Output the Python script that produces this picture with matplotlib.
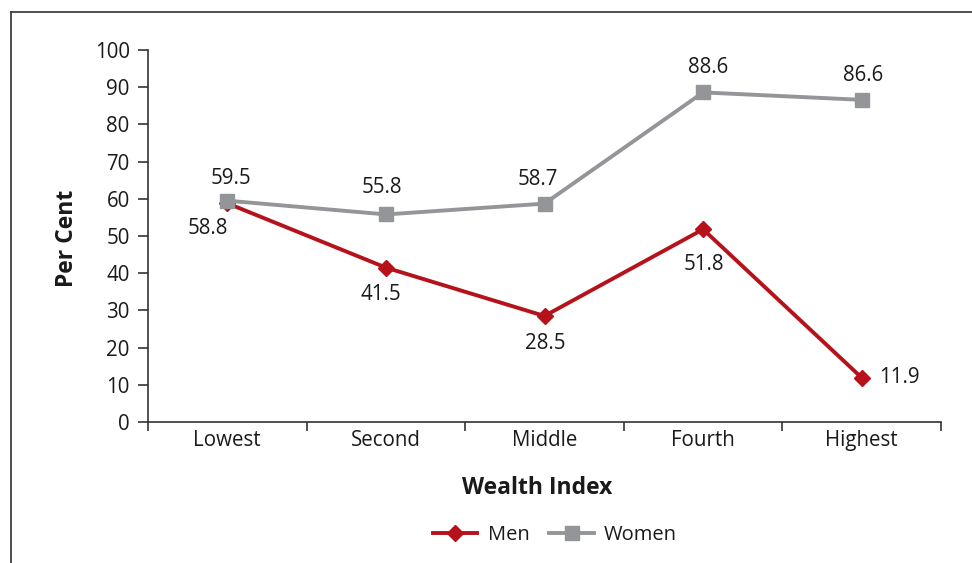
import matplotlib
matplotlib.use("Agg")
import matplotlib.pyplot as plt
from matplotlib.lines import Line2D

plt.rcParams['font.family'] = ['Open Sans', 'DejaVu Sans']

categories = ["Lowest", "Second", "Middle", "Fourth", "Highest"]
men = [58.8, 41.5, 28.5, 51.8, 11.9]
women = [59.5, 55.8, 58.7, 88.6, 86.6]
y_ticks = [0, 10, 20, 30, 40, 50, 60, 70, 80, 90, 100]

RED = "#B5121B"
GRAY = "#939598"
TXT = "#1a1a1a"
FS = 14.8

fig = plt.figure(figsize=(9.72, 5.63), dpi=100)
ax = fig.add_axes([148/972, 1-422/563, (941-148)/972, (422-50)/563])

xs = [i + 0.5 for i in range(len(categories))]
ax.plot(xs, women, color=GRAY, lw=2.8, marker="s", ms=9.5, mec=GRAY, mfc=GRAY, zorder=3)
ax.plot(xs, men, color=RED, lw=2.8, marker="D", ms=8.5, mec=RED, mfc=RED, zorder=2)

# label offsets in pixels (dx, dy), dy positive = up
w_off = [(4, 22), (-4, 27), (-7, 24), (5, 25), (1, 24)]
m_off = [(-19, -25), (-5, -27), (1, -28), (1, -35), (38, 0)]
for x, v, (dx, dy) in zip(xs, women, w_off):
    ax.annotate(f"{v:.1f}", (x, v), xytext=(dx, dy), textcoords="offset pixels",
                ha="center", va="center", fontsize=FS, color=TXT)
for x, v, (dx, dy) in zip(xs, men, m_off):
    ax.annotate(f"{v:.1f}", (x, v), xytext=(dx, dy), textcoords="offset pixels",
                ha="center", va="center", fontsize=FS, color=TXT)

ax.set_xlim(0, len(categories))
ax.set_ylim(0, 100)
ax.set_yticks(y_ticks)
ax.set_yticklabels([str(t) for t in y_ticks])
ax.set_xticks(range(len(categories) + 1))
ax.set_xticklabels([])
ax.set_xticks(xs, minor=True)
ax.set_xticklabels(categories, minor=True)

for s in ["top", "right"]:
    ax.spines[s].set_visible(False)
for s in ["left", "bottom"]:
    ax.spines[s].set_color("#333333")
    ax.spines[s].set_linewidth(1.2)

ax.tick_params(axis="y", direction="out", length=7.2, width=1.2, color="#333333",
               pad=6, labelsize=FS, labelcolor=TXT)
ax.tick_params(axis="x", which="major", direction="out", length=6.5, width=1.2, color="#333333")
ax.tick_params(axis="x", which="minor", length=0, pad=6, labelsize=FS, labelcolor=TXT)

fig.text(67/972, 1-238/563, "Per Cent", rotation=90, ha="center", va="center",
         fontsize=16.5, fontweight="bold", color=TXT)
fig.text(537/972, 1-488/563, "Wealth Index", ha="center", va="center",
         fontsize=16.5, fontweight="bold", color=TXT)

handles = [Line2D([], [], color=RED, lw=2.8, marker="D", ms=8.5),
           Line2D([], [], color=GRAY, lw=2.8, marker="s", ms=9.5)]
fig.legend(handles, ["Men", "Women"], loc="center", bbox_to_anchor=(555/972, 1-535/563),
           ncol=2, frameon=False, fontsize=14.5, handlelength=2.2, handletextpad=0.5,
           columnspacing=1.0, labelcolor=TXT)

# outer frame (left and top lines)
fig.add_artist(Line2D([11/972, 11/972], [0, 1-12/563], transform=fig.transFigure,
                      color="#404040", lw=1.3))
fig.add_artist(Line2D([11/972, 1], [1-12/563, 1-12/563], transform=fig.transFigure,
                      color="#404040", lw=1.3))

fig.savefig("out.png", dpi=100)
